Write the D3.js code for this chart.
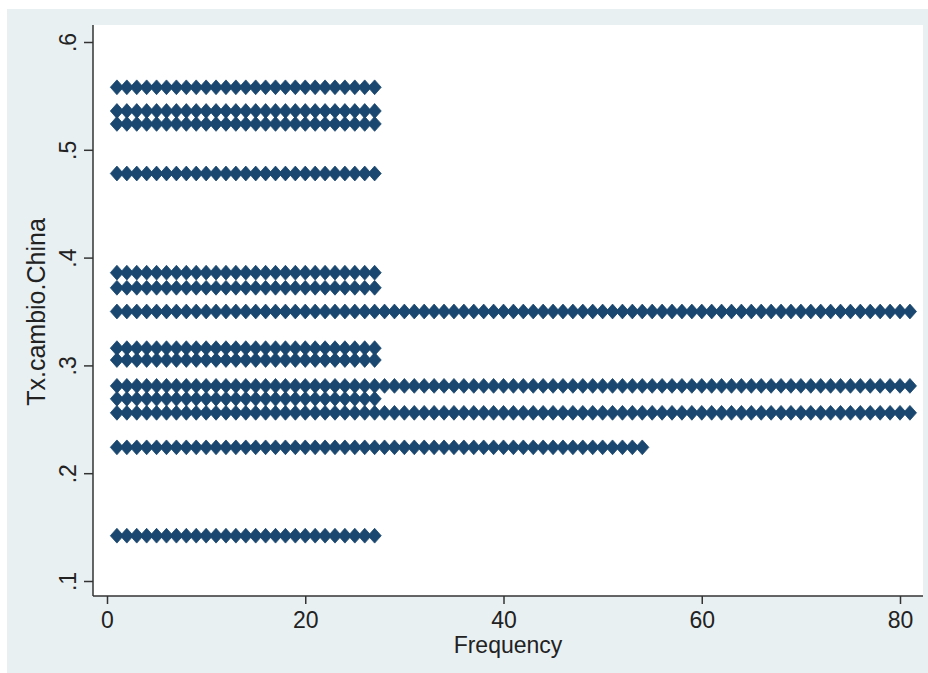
<!DOCTYPE html>
<html>
<head>
<meta charset="utf-8">
<script src="https://cdn.jsdelivr.net/npm/d3@7"></script>
<style>
  html, body { margin: 0; padding: 0; background: #ffffff; }
  svg { display: block; }
  text { font-family: "Liberation Sans", Arial, sans-serif; fill: #222; }
</style>
</head>
<body>
<svg id="chart" width="928" height="673"></svg>
<script>
// Data: exchange-rate levels (Tx.cambio.China) and their frequencies
const levels = [0.558, 0.536, 0.524, 0.478, 0.386, 0.372, 0.350, 0.316, 0.305, 0.281, 0.269, 0.256, 0.224, 0.142];
const counts = [27, 27, 27, 27, 27, 27, 81, 27, 27, 81, 27, 81, 54, 27];
const yTicks = [0.1, 0.2, 0.3, 0.4, 0.5, 0.6];
const yTickLabels = [".1", ".2", ".3", ".4", ".5", ".6"];
const xTicks = [0, 20, 40, 60, 80];
const xTitle = "Frequency";
const yTitle = "Tx.cambio.China";

const svg = d3.select("#chart");
const W = 928, H = 673;

// outer graph region
svg.append("rect").attr("x", 7).attr("y", 9).attr("width", W - 7).attr("height", H - 9).attr("fill", "#e8f0f2");
// plot region
const plot = { left: 93, right: 923, top: 25, bottom: 596 };
svg.append("rect").attr("x", plot.left).attr("y", plot.top)
  .attr("width", plot.right - plot.left).attr("height", plot.bottom - plot.top).attr("fill", "#ffffff");

const x = d3.scaleLinear().domain([0, 80]).range([107, 900]);
const y = d3.scaleLinear().domain([0.1, 0.6]).range([581, 42]);

// points
const pts = [];
levels.forEach((v, i) => { for (let k = 1; k <= counts[i]; k++) pts.push({ v, k }); });
const hw = 6.6, hh = 7.4;
const diamond = `M0,${-hh}L${hw},0L0,${hh}L${-hw},0Z`;
svg.append("g").selectAll("path").data(pts).join("path")
  .attr("d", diamond)
  .attr("transform", d => `translate(${x(d.k)},${y(d.v)})`)
  .attr("fill", "#1a476f")
  .attr("stroke", "#1a476f").attr("stroke-width", 0.8).attr("stroke-linejoin", "round");

// y axis
const yAxis = svg.append("g").attr("transform", `translate(${plot.left},0)`)
  .call(d3.axisLeft(y).tickValues(yTicks).tickSize(9).tickPadding(0).tickFormat((d, i) => yTickLabels[i]));
yAxis.select(".domain").attr("d", `M0,${plot.top}V${plot.bottom}`).attr("stroke", "#333").attr("stroke-width", 1.5);
yAxis.selectAll(".tick line").attr("stroke", "#333").attr("stroke-width", 1.5);
yAxis.selectAll(".tick text")
  .attr("transform", "translate(-25,0) rotate(-90)")
  .attr("x", 0).attr("y", 0).attr("dy", "0.35em")
  .attr("text-anchor", "middle").style("font-size", "23px").attr("fill", "#222");

// x axis
const xAxis = svg.append("g").attr("transform", `translate(0,${plot.bottom})`)
  .call(d3.axisBottom(x).tickValues(xTicks).tickSize(8).tickPadding(8));
xAxis.select(".domain").attr("d", `M${plot.left},0H${plot.right}`).attr("stroke", "#333").attr("stroke-width", 1.5);
xAxis.selectAll(".tick line").attr("stroke", "#333").attr("stroke-width", 1.5);
xAxis.selectAll(".tick text").style("font-size", "23px").attr("fill", "#222");

// titles
svg.append("text").attr("x", 508).attr("y", 653).attr("text-anchor", "middle")
  .style("font-size", "23px").text(xTitle);
svg.append("text").attr("transform", "translate(45,312) rotate(-90)").attr("text-anchor", "middle")
  .style("font-size", "25px").text(yTitle);
</script>
</body>
</html>
